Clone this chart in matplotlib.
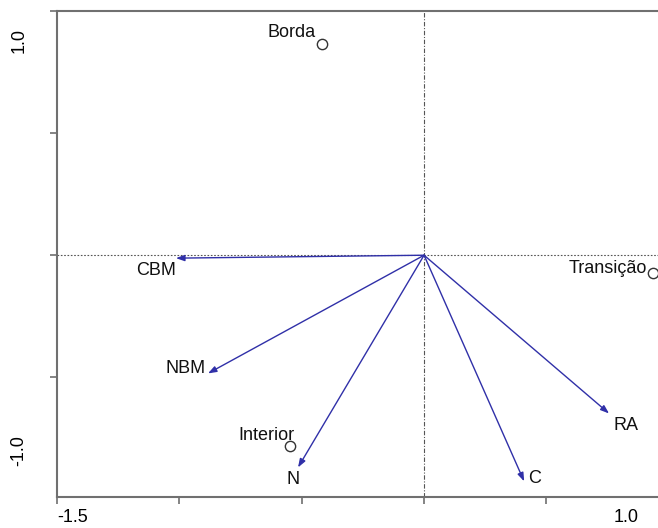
import matplotlib
matplotlib.use("Agg")
import matplotlib.pyplot as plt

plt.rcParams['font.family'] = ['Liberation Sans', 'DejaVu Sans']

# Amostras (círculos)
amostras = ["Borda", "Transição", "Interior"]
amostras_x = [-0.417, 0.936, -0.548]
amostras_y = [0.865, -0.074, -0.783]

# Variáveis (setas)
variaveis = ["CBM", "NBM", "N", "C", "RA"]
var_x = [-1.014, -0.883, -0.515, 0.409, 0.756]
var_y = [-0.012, -0.484, -0.869, -0.926, -0.648]

fig = plt.figure(figsize=(6.58, 5.28), dpi=100)
ax = fig.add_axes([57 / 658, 31 / 528, 1 - 57 / 658, (497 - 11) / 528])
ax.set_xlim(-1.5, 0.956)
ax.set_ylim(-0.99, 1.0)

cinza = "#707070"
for s in ["left", "bottom", "top"]:
    ax.spines[s].set_color(cinza)
    ax.spines[s].set_linewidth(1.5)
ax.spines["right"].set_visible(False)

ax.set_xticks([-1.5, -1.0, -0.5, 0.0, 0.5])
ax.set_yticks([-0.5, 0.0, 0.5, 1.0])
ax.set_xticklabels([])
ax.set_yticklabels([])
ax.tick_params(axis="both", direction="out", length=5, width=1.2, color=cinza)
ax.tick_params(top=False, right=False)

# Rótulos das extremidades
ax.text(-1.5, -1.04, "-1.5", ha="left", va="top", fontsize=13, clip_on=False)
ax.text(0.827, -1.04, "1.0", ha="center", va="top", fontsize=13, clip_on=False)
ax.text(-1.655, 0.88, "1.0", ha="center", va="center", rotation=90, fontsize=13, clip_on=False)
ax.text(-1.655, -0.80, "-1.0", ha="center", va="center", rotation=90, fontsize=13, clip_on=False)

# Linhas de referência
ax.axhline(0, color="#555555", lw=0.8, ls=(0, (1.5, 1.5)), zorder=1)
ax.axvline(0, color="#555555", lw=0.8, ls=(0, (4, 1.5, 1, 1.5)), zorder=1)

# Setas
azul = "#3030a8"
for nome, x, y in zip(variaveis, var_x, var_y):
    ax.annotate("", xy=(x, y), xytext=(0, 0),
                arrowprops=dict(arrowstyle="-|>,head_length=0.5,head_width=0.18",
                                color=azul, lw=1.0, shrinkA=0, shrinkB=0))

offsets_var = {
    "CBM": (-0.08, -0.05, "center", "center"),
    "NBM": (-0.01, 0.02, "right", "center"),
    "N": (-0.02, -0.05, "center", "center"),
    "C": (0.015, 0.01, "left", "center"),
    "RA": (0.02, -0.05, "left", "center"),
}
for nome, x, y in zip(variaveis, var_x, var_y):
    dx, dy, ha, va = offsets_var[nome]
    ax.text(x + dx, y + dy, nome, ha=ha, va=va, fontsize=13, color="#111111")

# Amostras
ax.scatter(amostras_x, amostras_y, s=55, facecolors="white", edgecolors="#333333",
           linewidths=1.0, zorder=3, clip_on=False)
offsets_amostra = {
    "Borda": (-0.025, 0.045),
    "Transição": (-0.025, 0.02),
    "Interior": (0.02, 0.045),
}
for nome, x, y in zip(amostras, amostras_x, amostras_y):
    dx, dy = offsets_amostra[nome]
    ax.text(x + dx, y + dy, nome, ha="right", va="center", fontsize=13, color="#111111")

fig.savefig("out.png", dpi=100)
